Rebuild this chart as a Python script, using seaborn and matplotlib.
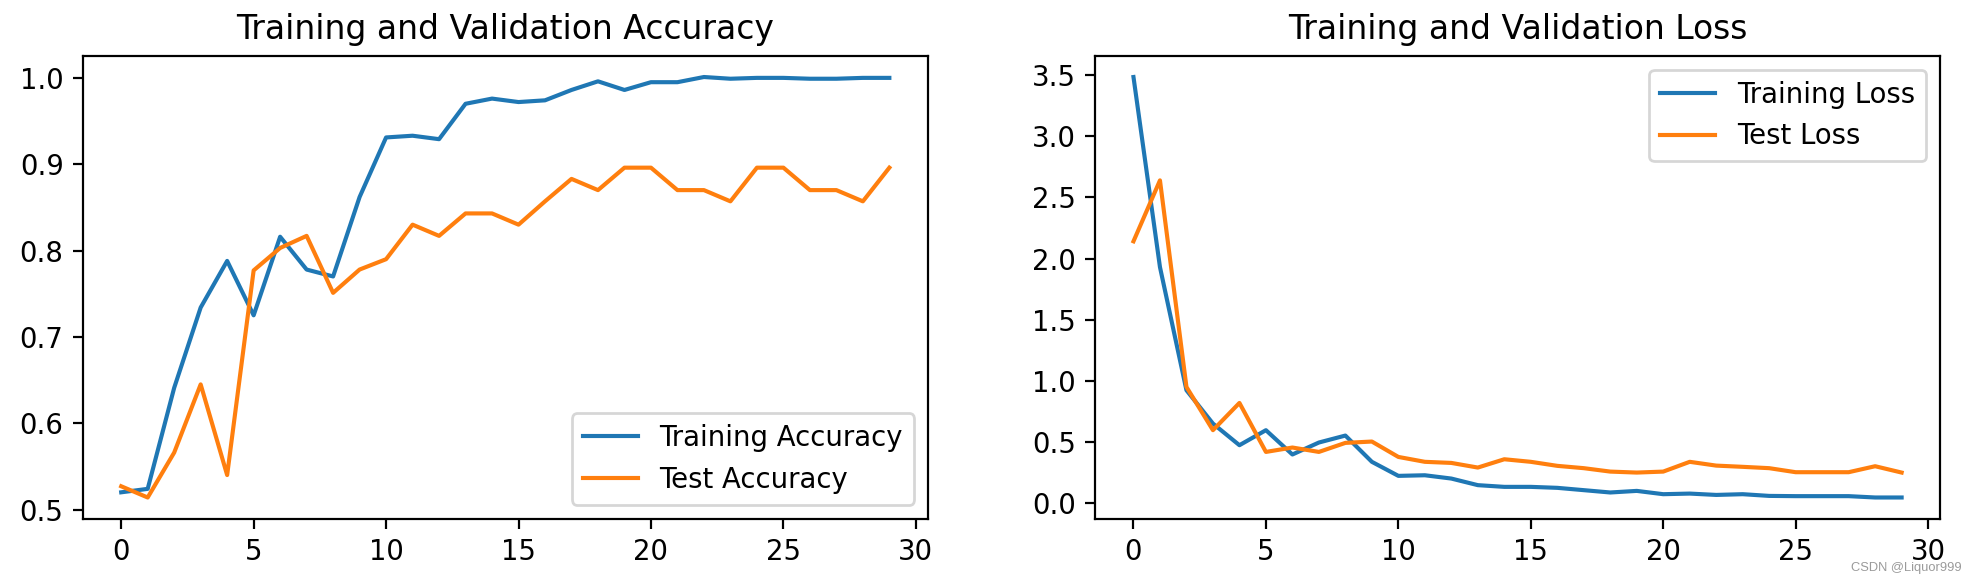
import numpy as np
import matplotlib
matplotlib.use("Agg")
import matplotlib.pyplot as plt
import seaborn as sns

# values
epochs = list(range(30))

train_acc = [0.520, 0.524, 0.641, 0.734, 0.788, 0.725, 0.816, 0.778, 0.770, 0.862,
             0.931, 0.933, 0.929, 0.970, 0.976, 0.972, 0.974, 0.986, 0.996, 0.986,
             0.995, 0.995, 1.001, 0.999, 1.000, 1.000, 0.999, 0.999, 1.000, 1.000]
test_acc = [0.527, 0.514, 0.566, 0.645, 0.540, 0.777, 0.803, 0.817, 0.751, 0.778,
            0.790, 0.830, 0.817, 0.843, 0.843, 0.830, 0.857, 0.883, 0.870, 0.896,
            0.896, 0.870, 0.870, 0.857, 0.896, 0.896, 0.870, 0.870, 0.857, 0.896]

train_loss = [3.486, 1.93, 0.922, 0.649, 0.472, 0.595, 0.396, 0.494, 0.551, 0.336,
              0.221, 0.226, 0.199, 0.145, 0.131, 0.131, 0.123, 0.104, 0.085, 0.098,
              0.071, 0.076, 0.065, 0.071, 0.057, 0.055, 0.055, 0.055, 0.044, 0.044]
test_loss = [2.141, 2.640, 0.949, 0.595, 0.818, 0.417, 0.453, 0.417, 0.491, 0.502,
             0.376, 0.336, 0.327, 0.289, 0.357, 0.336, 0.303, 0.284, 0.256, 0.248,
             0.256, 0.336, 0.305, 0.295, 0.284, 0.251, 0.251, 0.251, 0.300, 0.248]

DPI = 198
fig, (ax1, ax2) = plt.subplots(1, 2, figsize=(1976 / DPI, 576 / DPI), dpi=DPI)
fig.subplots_adjust(left=0.0419, right=0.9818, top=0.9028, bottom=0.0998, wspace=0.198)

sns.lineplot(x=epochs, y=train_acc, ax=ax1, label='Training Accuracy', color='#1f77b4')
sns.lineplot(x=epochs, y=test_acc, ax=ax1, label='Test Accuracy', color='#ff7f0e')
ax1.legend(loc='lower right')
ax1.set_title('Training and Validation Accuracy')

sns.lineplot(x=epochs, y=train_loss, ax=ax2, label='Training Loss', color='#1f77b4')
sns.lineplot(x=epochs, y=test_loss, ax=ax2, label='Test Loss', color='#ff7f0e')
ax2.legend(loc='upper right')
ax2.set_title('Training and Validation Loss')

# watermark
fig.text(0.9925, 0.004, 'CSDN @Liquor999', ha='right', va='bottom',
         fontsize=4.7, color='#9a9a9a', family='Liberation Sans')

fig.savefig('out.png', dpi=DPI)
